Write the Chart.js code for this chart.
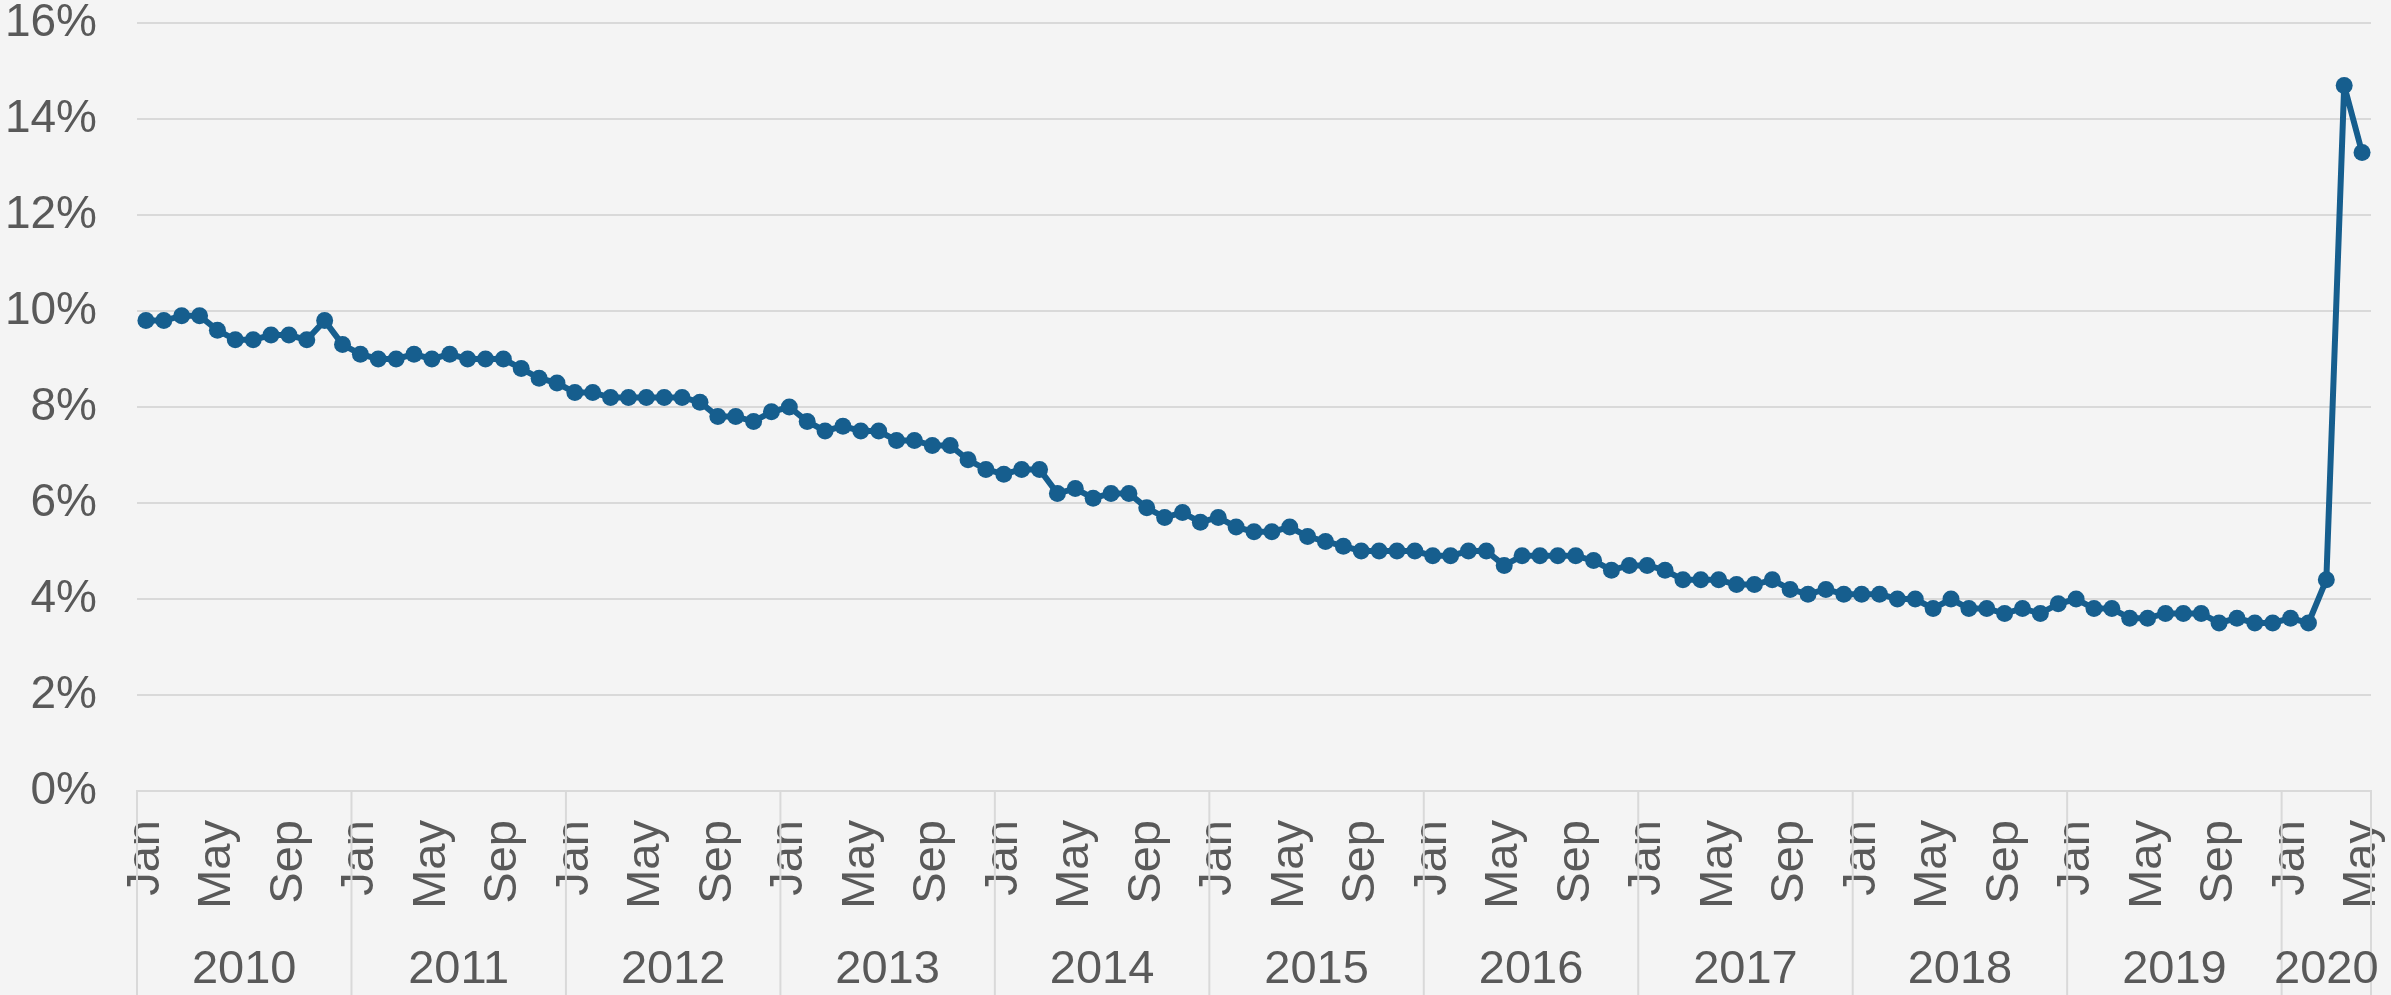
<!DOCTYPE html>
<html>
<head>
<meta charset="utf-8">
<title>Unemployment rate</title>
<script src="https://cdn.jsdelivr.net/npm/chart.js@4.4.1/dist/chart.umd.min.js"></script>
<style>
    html, body { margin: 0; padding: 0; background: #f4f4f4; }
    #wrap { width: 2391px; height: 995px; }
</style>
</head>
<body>
<div id="wrap"><canvas id="rateChart" width="2391" height="995"></canvas></div>
<script>
// Data
const years = [2010, 2011, 2012, 2013, 2014, 2015, 2016, 2017, 2018, 2019, 2020];
const monthNames = ['Jan', 'Feb', 'Mar', 'Apr', 'May', 'Jun', 'Jul', 'Aug', 'Sep', 'Oct', 'Nov', 'Dec'];
const shownMonths = ['Jan', 'May', 'Sep'];
const yTicks = [0, 2, 4, 6, 8, 10, 12, 14, 16];

// monthly rate (%), one row per year
const rates = [
    9.8, 9.8, 9.9, 9.9, 9.6, 9.4, 9.4, 9.5, 9.5, 9.4, 9.8, 9.3,
    9.1, 9.0, 9.0, 9.1, 9.0, 9.1, 9.0, 9.0, 9.0, 8.8, 8.6, 8.5,
    8.3, 8.3, 8.2, 8.2, 8.2, 8.2, 8.2, 8.1, 7.8, 7.8, 7.7, 7.9,
    8.0, 7.7, 7.5, 7.6, 7.5, 7.5, 7.3, 7.3, 7.2, 7.2, 6.9, 6.7,
    6.6, 6.7, 6.7, 6.2, 6.3, 6.1, 6.2, 6.2, 5.9, 5.7, 5.8, 5.6,
    5.7, 5.5, 5.4, 5.4, 5.5, 5.3, 5.2, 5.1, 5.0, 5.0, 5.0, 5.0,
    4.9, 4.9, 5.0, 5.0, 4.7, 4.9, 4.9, 4.9, 4.9, 4.8, 4.6, 4.7,
    4.7, 4.6, 4.4, 4.4, 4.4, 4.3, 4.3, 4.4, 4.2, 4.1, 4.2, 4.1,
    4.1, 4.1, 4.0, 4.0, 3.8, 4.0, 3.8, 3.8, 3.7, 3.8, 3.7, 3.9,
    4.0, 3.8, 3.8, 3.6, 3.6, 3.7, 3.7, 3.7, 3.5, 3.6, 3.5, 3.5,
    3.6, 3.5, 4.4, 14.7, 13.3
];

const textColor = '#595959';
const gridColor = '#d9d9d9';
const lineColor = '#165e8e';
const fontFamily = '"Liberation Sans", Arial, sans-serif';

// build category labels (month) and remember the year of each point
const labels = [];
const labelYears = [];
rates.forEach((v, i) => {
    labels.push(monthNames[i % 12]);
    labelYears.push(years[Math.floor(i / 12)]);
});

// second level of the x axis: year names + separators
const yearAxisPlugin = {
    id: 'yearAxis',
    afterDraw(chart) {
        const ctx = chart.ctx;
        const x = chart.scales.x;
        const area = chart.chartArea;
        const half = (x.getPixelForValue(1) - x.getPixelForValue(0)) / 2;

        ctx.save();
        ctx.strokeStyle = gridColor;
        ctx.lineWidth = 2;
        ctx.fillStyle = textColor;
        ctx.font = '47px ' + fontFamily;
        ctx.textAlign = 'center';
        ctx.textBaseline = 'middle';

        years.forEach((yr, k) => {
            const first = labelYears.indexOf(yr);
            const last = labelYears.lastIndexOf(yr);
            if (first < 0) return;
            const left = x.getPixelForValue(first) - half;
            const right = x.getPixelForValue(last) + half;
            ctx.beginPath();
            ctx.moveTo(left, area.bottom);
            ctx.lineTo(left, chart.height);
            ctx.stroke();
            if (k === years.length - 1) {
                ctx.beginPath();
                ctx.moveTo(right, area.bottom);
                ctx.lineTo(right, chart.height);
                ctx.stroke();
            }
            ctx.fillText(String(yr), (left + right) / 2, 970);
        });
        ctx.restore();
    }
};

function initRateChart() {
    const ctx = document.getElementById('rateChart').getContext('2d');

    new Chart(ctx, {
        type: 'line',
        data: {
            labels: labels,
            datasets: [{
                label: 'Unemployment rate',
                data: rates,
                borderColor: lineColor,
                backgroundColor: lineColor,
                borderWidth: 6,
                borderJoinStyle: 'round',
                borderCapStyle: 'round',
                pointRadius: 8.5,
                pointBorderWidth: 0,
                pointBackgroundColor: lineColor,
                tension: 0
            }]
        },
        options: {
            responsive: false,
            animation: false,
            layout: {
                padding: { left: 5, right: 20, top: 23, bottom: 88 }
            },
            plugins: {
                legend: { display: false },
                tooltip: { enabled: false }
            },
            scales: {
                x: {
                    type: 'category',
                    offset: true,
                    grid: { display: false, drawTicks: false },
                    border: { display: true, color: gridColor, width: 2 },
                    ticks: {
                        autoSkip: false,
                        maxRotation: 90,
                        minRotation: 90,
                        padding: 29,
                        color: textColor,
                        font: { family: fontFamily, size: 47 },
                        callback: function(value, index) {
                            const m = labels[index];
                            return shownMonths.includes(m) ? m : '';
                        }
                    },
                    afterFit: function(scale) {
                        // fixed band for the month row, no extra side padding
                        scale.height = 116;
                        scale.paddingLeft = 0;
                        scale.paddingRight = 0;
                    }
                },
                y: {
                    min: yTicks[0],
                    max: yTicks[yTicks.length - 1],
                    grid: { color: gridColor, lineWidth: 2, drawTicks: false },
                    border: { display: false },
                    ticks: {
                        stepSize: 2,
                        padding: 40,
                        color: textColor,
                        font: { family: fontFamily, size: 46 },
                        callback: function(value) {
                            return value + '%';
                        }
                    },
                    afterFit: function(scale) {
                        scale.width = 132;
                        scale.paddingTop = 0;
                        scale.paddingBottom = 0;
                    }
                }
            }
        },
        plugins: [yearAxisPlugin]
    });
}

initRateChart();
</script>
</body>
</html>
